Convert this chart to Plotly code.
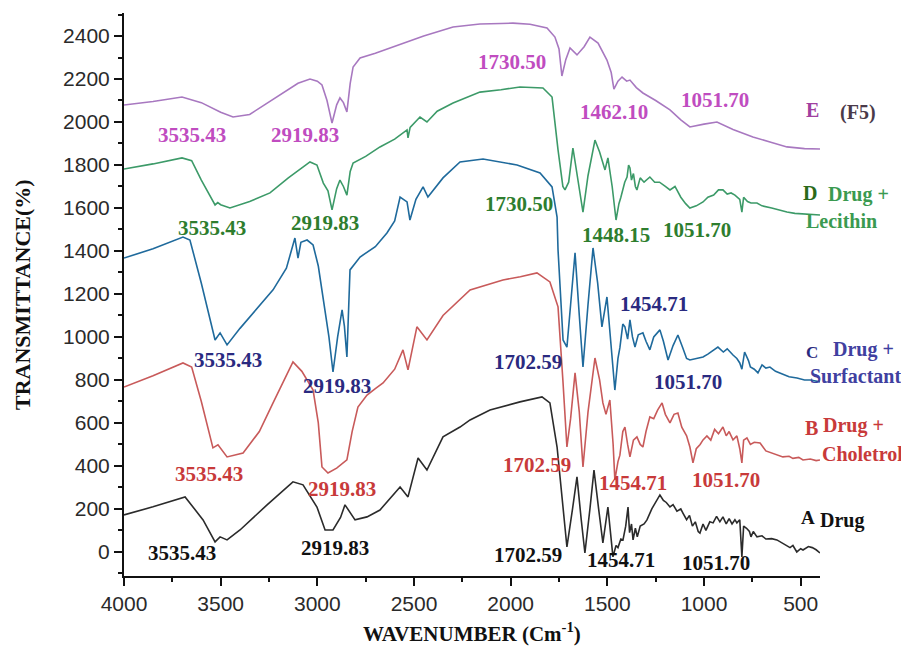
import plotly.graph_objects as go

# ---------------- data (wavenumber cm^-1, transmittance %) ----------------
e_wn = [4000, 3850, 3700, 3600, 3500, 3436, 3350, 3200, 3100, 3038, 3000, 2976, 2950, 2924, 2900,
        2883, 2865, 2847, 2830, 2815, 2779, 2700, 2557, 2450, 2298, 2159, 2050, 1988, 1900, 1812,
        1771, 1750, 1735, 1715, 1693, 1657, 1620, 1590, 1548, 1502, 1480, 1466, 1445, 1424, 1400,
        1383, 1350, 1316, 1250, 1176, 1120, 1073, 1000, 933, 850, 747, 650, 571, 480, 400]
e_t = [2079, 2095, 2116, 2090, 2045, 2023, 2035, 2120, 2180, 2200, 2190, 2172, 2100, 1995, 2080,
       2112, 2090, 2047, 2180, 2256, 2298, 2320, 2367, 2400, 2442, 2456, 2458, 2460, 2455, 2437,
       2395, 2340, 2214, 2290, 2344, 2312, 2350, 2395, 2367, 2288, 2230, 2153, 2190, 2209, 2190,
       2195, 2160, 2135, 2100, 2056, 2010, 1977, 1990, 2000, 1965, 1930, 1905, 1884, 1876, 1874]

d_wn = [4000, 3850, 3700, 3650, 3600, 3529, 3515, 3500, 3452, 3350, 3245, 3150, 3038, 3002, 2969,
        2945, 2924, 2900, 2883, 2865, 2847, 2830, 2815, 2750, 2676, 2600, 2536, 2531, 2520, 2469,
        2433, 2380, 2298, 2159, 2050, 1952, 1833, 1786, 1755, 1730, 1719, 1700, 1678, 1650, 1626,
        1600, 1564, 1540, 1512, 1497, 1475, 1455, 1440, 1430, 1410, 1398, 1390, 1383, 1375, 1365,
        1355, 1347, 1330, 1310, 1280, 1255, 1230, 1200, 1176, 1150, 1120, 1095, 1073, 1040, 1005,
        980, 950, 925, 902, 880, 860, 840, 830, 815, 804, 795, 775, 757, 726, 700, 650, 610, 571,
        530, 480, 440, 400]
d_t = [1781, 1805, 1833, 1820, 1730, 1614, 1625, 1615, 1600, 1630, 1670, 1740, 1814, 1800, 1716,
       1680, 1591, 1690, 1730, 1700, 1660, 1770, 1809, 1840, 1884, 1920, 1963, 1926, 1975, 2023,
       2000, 2050, 2088, 2139, 2150, 2163, 2158, 2116, 1870, 1700, 1684, 1720, 1879, 1720, 1581,
       1750, 1916, 1860, 1777, 1833, 1700, 1544, 1620, 1650, 1720, 1744, 1800, 1786, 1730, 1760,
       1700, 1684, 1740, 1720, 1744, 1720, 1720, 1700, 1684, 1700, 1650, 1620, 1600, 1610, 1628,
       1650, 1660, 1684, 1684, 1665, 1670, 1660, 1651, 1640, 1581, 1650, 1630, 1623, 1623, 1610,
       1600, 1590, 1581, 1575, 1572, 1568, 1567]

c_wn = [4000, 3850, 3695, 3659, 3600, 3529, 3503, 3467, 3400, 3333, 3229, 3160, 3116, 3100, 3085,
        3053, 3022, 2995, 2969, 2940, 2919, 2895, 2872, 2860, 2847, 2831, 2779, 2700, 2640, 2600,
        2572, 2536, 2521, 2490, 2453, 2428, 2350, 2262, 2143, 1967, 1848, 1786, 1760, 1755, 1729,
        1709, 1690, 1667, 1645, 1626, 1600, 1574, 1550, 1528, 1502, 1480, 1461, 1445, 1435, 1420,
        1409, 1395, 1383, 1370, 1357, 1340, 1316, 1300, 1280, 1260, 1228, 1210, 1186, 1160, 1135,
        1110, 1090, 1073, 1040, 1005, 980, 950, 928, 900, 880, 850, 830, 815, 804, 790, 770, 760,
        740, 721, 700, 680, 659, 630, 600, 560, 519, 480, 450, 400]
c_t = [1367, 1410, 1465, 1451, 1250, 986, 1019, 963, 1040, 1112, 1219, 1320, 1460, 1367, 1440,
       1451, 1428, 1330, 1172, 1000, 837, 1000, 1126, 1050, 907, 1312, 1372, 1420, 1484, 1540,
       1651, 1628, 1544, 1640, 1698, 1651, 1740, 1814, 1828, 1800, 1763, 1698, 1558, 1405, 986,
       953, 1150, 1391, 1100, 860, 1150, 1414, 1250, 1047, 1186, 950, 753, 900, 950, 1060,
       1047, 990, 1079, 1000, 953, 1010, 1019, 980, 940, 1000, 1033, 980, 893, 960, 1009,
       950, 900, 893, 900, 907, 920, 940, 953, 930, 945, 916, 900, 879, 850, 930, 890, 860,
       850, 833, 870, 855, 860, 840, 830, 815, 809, 800, 800, 791]

b_wn = [4000, 3850, 3695, 3650, 3600, 3540, 3514, 3467, 3384, 3300, 3229, 3126, 3080, 3022, 2995,
        2976, 2945, 2900, 2847, 2820, 2790, 2743, 2700, 2660, 2600, 2557, 2531, 2485, 2433, 2350,
        2210, 2040, 1950, 1864, 1797, 1755, 1730, 1709, 1690, 1667, 1645, 1626, 1600, 1564, 1540,
        1523, 1507, 1487, 1470, 1461, 1445, 1435, 1420, 1409, 1395, 1383, 1365, 1347, 1330, 1316,
        1300, 1280, 1260, 1240, 1217, 1200, 1176, 1155, 1135, 1115, 1090, 1073, 1057, 1040, 1020,
        1005, 985, 965, 945, 925, 902, 885, 870, 850, 830, 815, 804, 795, 778, 760, 740, 710, 680,
        650, 620, 592, 560, 540, 510, 488, 450, 420, 400]
b_t = [767, 820, 879, 860, 700, 484, 498, 442, 460, 560, 693, 884, 840, 753, 600,
       395, 367, 390, 428, 560, 674, 730, 760, 786, 850, 940, 847, 1047, 986, 1100,
       1219, 1265, 1280, 1298, 1256, 1140, 800, 488, 620, 833, 650, 395, 650, 902, 800,
       693, 640, 707, 500, 335, 420, 450, 560, 581, 500, 442, 520, 535, 500, 488,
       560, 628, 620, 660, 693, 640, 600, 640, 646, 580, 540, 488, 414, 480, 500,
       521, 540, 520, 570, 550, 581, 540, 560, 521, 540, 480, 414, 520, 530, 500, 510, 507, 470,
       460, 450, 442, 445, 435, 440, 428, 432, 425, 428]

a_wn = [4000, 3850, 3684, 3591, 3529, 3503, 3467, 3400, 3260, 3126, 3074, 3002, 2960, 2919, 2880,
        2857, 2805, 2743, 2676, 2572, 2531, 2479, 2433, 2350, 2262, 2210, 2107, 1952, 1838, 1797,
        1760, 1709, 1680, 1657, 1635, 1616, 1590, 1569, 1545, 1523, 1497, 1471, 1455, 1445, 1430,
        1419, 1405, 1393, 1385, 1375, 1367, 1355, 1345, 1330, 1310, 1295, 1270, 1245, 1228, 1210,
        1195, 1176, 1160, 1140, 1120, 1109, 1090, 1075, 1060, 1045, 1030, 1021, 1005, 990, 970,
        953, 935, 918, 902, 885, 870, 855, 840, 830, 815, 804, 795, 780, 765, 757, 745, 726, 700,
        680, 650, 623, 580, 555, 540, 520, 500, 488, 460, 440, 420, 400]
a_t = [172, 210, 256, 149, 47, 70, 56, 102, 219, 326, 312, 209, 102, 102, 160,
       219, 149, 163, 195, 302, 256, 437, 381, 535, 581, 614, 660, 698, 721, 693,
       488, 23, 200, 349, 150, -5, 200, 381, 200, 42, 209, -23, 30, 20, 60,
       56, 120, 209, 90, 130, 56, 110, 70, 120, 130, 149, 200, 240, 265, 240,
       230, 209, 220, 190, 200, 181, 150, 170, 120, 140, 95, 88, 130, 100, 140,
       135, 165, 140, 163, 130, 155, 130, 150, 135, 150, -23, 120, 110, 95, 70, 95, 70, 75,
       60, 62, 56, 35, 20, 30, 0, 15, 9, 25, 20, 10, -5]

# peak labels: (text, wavenumber, transmittance)
e_labels = [("3535.43", 3648, 1939), ("2919.83", 3064, 1939), ("1730.50", 1993, 2279),
            ("1462.10", 1466, 2046), ("1051.70", 941, 2102)]
d_labels = [("3535.43", 3545, 1507), ("2919.83", 2960, 1530), ("1730.50", 1957, 1619),
            ("1448.15", 1455, 1474), ("1051.70", 1036, 1498)]
c_labels = [("3535.43", 3462, 893), ("2919.83", 2898, 772), ("1702.59", 1910, 884),
            ("1454.71", 1259, 1153), ("1051.70", 1083, 791)]
b_labels = [("3535.43", 3560, 363), ("2919.83", 2872, 293), ("1702.59", 1864, 405),
            ("1454.71", 1367, 321), ("1051.70", 886, 335)]
a_labels = [("3535.43", 3700, -5), ("2919.83", 2909, 19), ("1702.59", 1910, -14),
            ("1454.71", 1429, -37), ("1051.70", 938, -51)]

x_ticks = [4000, 3500, 3000, 2500, 2000, 1500, 1000, 500]
y_ticks = [0, 200, 400, 600, 800, 1000, 1200, 1400, 1600, 1800, 2000, 2200, 2400]

# ---------------- figure ----------------
fig = go.Figure()
series = [
    (a_wn, a_t, "#2b2b2b"),
    (b_wn, b_t, "#c85a5a"),
    (c_wn, c_t, "#1f6a9c"),
    (d_wn, d_t, "#3c9a68"),
    (e_wn, e_t, "#a878c0"),
]
for wn, t, col in series:
    fig.add_trace(go.Scatter(x=wn, y=t, mode="lines", line=dict(color=col, width=1.6),
                             showlegend=False, hoverinfo="skip"))

SERIF = "Liberation Serif, Times New Roman, serif"
ann = []
for labels, col in [(e_labels, "#c04cc0"), (d_labels, "#2e7d2e"), (c_labels, "#2a2a80"),
                    (b_labels, "#c83a3a"), (a_labels, "#111111")]:
    for txt, x, y in labels:
        ann.append(dict(x=x, y=y, xref="x", yref="y", text="<b>" + txt + "</b>", showarrow=False,
                        xanchor="center", yanchor="middle",
                        font=dict(family=SERIF, size=21, color=col)))

# page pixel -> paper fraction (plot area spans x 124..820, y 13..576 on the page)
def px2paper(px, py):
    return (px - 124) / 696.0, (576 - py) / 563.0

side = [
    ("E", 812, 110, "center", "#a040a0", 20),
    ("(F5)", 838, 112, "left", "#4a3a4a", 20),
    ("D", 810, 193, "center", "#2a6a1a", 20),
    ("Drug +", 826, 194, "left", "#3a9a50", 20),
    ("Lecithin", 804, 221, "left", "#3a9a50", 20),
    ("C", 812, 353, "center", "#2a2a80", 17),
    ("Drug +", 831, 349, "left", "#4040a0", 20),
    ("Surfactant", 808, 376, "left", "#4040a0", 20),
    ("B", 811, 428, "center", "#c83a3a", 20),
    ("Drug +", 821, 425, "left", "#c83a3a", 20),
    ("Choletrol", 820, 454, "left", "#c83a3a", 20),
    ("A", 808, 517, "center", "#111111", 19),
    ("Drug", 818, 520, "left", "#111111", 20),
]
for txt, px, py, xa, col, fs in side:
    xp, yp = px2paper(px, py)
    ann.append(dict(x=xp, y=yp, xref="paper", yref="paper", text="<b>" + txt + "</b>",
                    showarrow=False, xanchor=xa, yanchor="middle",
                    font=dict(family=SERIF, size=fs, color=col)))

xp, yp = px2paper(22, 295)
ann.append(dict(x=xp, y=yp, xref="paper", yref="paper", text="<b>TRANSMITTANCE(%)</b>",
                textangle=-90, showarrow=False, xanchor="center", yanchor="middle",
                font=dict(family=SERIF, size=22, color="#111")))
xp, yp = px2paper(472, 632)
ann.append(dict(x=xp, y=yp, xref="paper", yref="paper",
                text="<b>WAVENUMBER (Cm<sup>-1</sup>)</b>",
                showarrow=False, xanchor="center", yanchor="middle",
                font=dict(family=SERIF, size=21, color="#111")))

TICKFONT = dict(family="Liberation Sans, Arial, sans-serif", size=21, color="#2a2a2a")
fig.update_layout(
    width=901, height=650,
    margin=dict(l=116, r=89, t=5, b=82),
    paper_bgcolor="white", plot_bgcolor="white",
    annotations=ann,
    xaxis=dict(range=[4000, 400], tickmode="array", tickvals=x_ticks,
               ticks="outside", ticklen=8, tickwidth=2, tickcolor="#111",
               showline=True, linecolor="#111", linewidth=2,
               showgrid=False, zeroline=False, tickfont=TICKFONT,
               minor=dict(tickmode="linear", tick0=0, dtick=250, ticks="outside", ticklen=4,
                          tickwidth=1.5, tickcolor="#111")),
    yaxis=dict(range=[-112, 2507], tickmode="array", tickvals=y_ticks,
               ticks="outside", ticklen=8, tickwidth=2, tickcolor="#111",
               showline=True, linecolor="#111", linewidth=2,
               showgrid=False, zeroline=False, tickfont=TICKFONT,
               minor=dict(tickmode="linear", tick0=0, dtick=100, ticks="outside", ticklen=4,
                          tickwidth=1.5, tickcolor="#111")),
)

fig.write_html("out.html")
